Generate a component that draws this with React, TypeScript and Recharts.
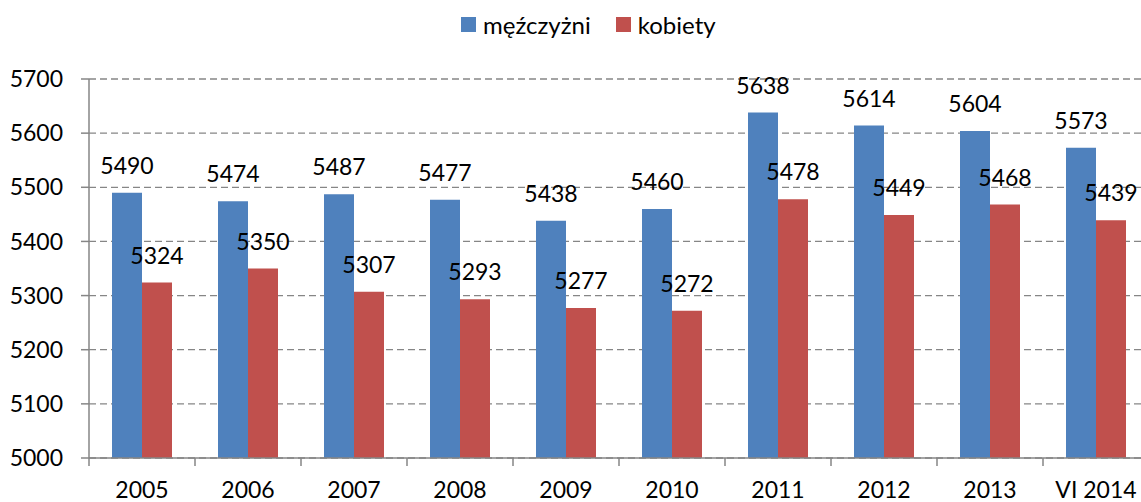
import { BarChart, Bar, XAxis, YAxis, CartesianGrid, LabelList } from 'recharts';

const years = ['2005', '2006', '2007', '2008', '2009', '2010', '2011', '2012', '2013', 'VI 2014'];
const men = [5490, 5474, 5487, 5477, 5438, 5460, 5638, 5614, 5604, 5573];
const women = [5324, 5350, 5307, 5293, 5277, 5272, 5478, 5449, 5468, 5439];
const yTicks = [5000, 5100, 5200, 5300, 5400, 5500, 5600, 5700];

const series = [
  { key: 'm', name: 'męźczyżni', color: '#4F81BD' },
  { key: 'k', name: 'kobiety', color: '#C0504D' },
];

const data = years.map((y, i) => ({ year: y, m: men[i], k: women[i] }));

const FONT = 'Lato, "Open Sans", sans-serif';
const AXIS = '#868686';

// category axis: label at centre, tick mark at the left edge of the band
function YearTick(props: any) {
  const { x, y, payload } = props;
  const half = payload?.offset ?? 53;
  return (
    <g>
      <line x1={x - half} y1={y} x2={x - half} y2={y + 8} stroke={AXIS} strokeWidth={1.5} />
      <text x={x} y={y + 40} textAnchor="middle" fill="#000" fontSize={23} fontFamily={FONT}>
        {payload.value}
      </text>
    </g>
  );
}

export default function App() {
  return (
    <div style={{ position: 'absolute', left: 0, top: 0, width: 1141, height: 502, overflow: 'hidden', background: '#fff' }}>
      <div style={{ position: 'absolute', left: 461, top: 10, display: 'flex', alignItems: 'center', fontFamily: FONT, fontSize: 24, color: '#000' }}>
        {series.map((s, i) => (
          <div key={s.key} style={{ display: 'flex', alignItems: 'center', marginRight: i === 0 ? 25 : 0 }}>
            <span style={{ display: 'inline-block', width: 15, height: 15, background: s.color, marginRight: 7 }} />
            <span>{s.name}</span>
          </div>
        ))}
      </div>
      <BarChart
        width={1149}
        height={502}
        data={data}
        margin={{ top: 79, right: 0, left: 0, bottom: 0 }}
        barGap={0}
        barSize={30}
      >
        <CartesianGrid vertical={false} stroke={AXIS} strokeDasharray="7 4" strokeWidth={1.3} />
        <XAxis
          dataKey="year"
          height={44}
          tickLine={false}
          tickSize={0}
          tickMargin={0}
          interval={0}
          axisLine={{ stroke: AXIS, strokeWidth: 1.5 }}
          tick={<YearTick />}
        />
        <YAxis
          width={89}
          domain={[5000, 5700]}
          ticks={yTicks}
          interval={0}
          tickSize={8}
          tickMargin={18}
          axisLine={{ stroke: AXIS, strokeWidth: 1.5 }}
          tickLine={{ stroke: AXIS, strokeWidth: 1.5 }}
          tick={{ fill: '#000', fontSize: 23, fontFamily: FONT }}
        />
        {series.map((s) => (
          <Bar key={s.key} dataKey={s.key} name={s.name} fill={s.color} isAnimationActive={false}>
            <LabelList dataKey={s.key} position="top" offset={19} fill="#000" fontSize={23} fontFamily={FONT} />
          </Bar>
        ))}
      </BarChart>
    </div>
  );
}
